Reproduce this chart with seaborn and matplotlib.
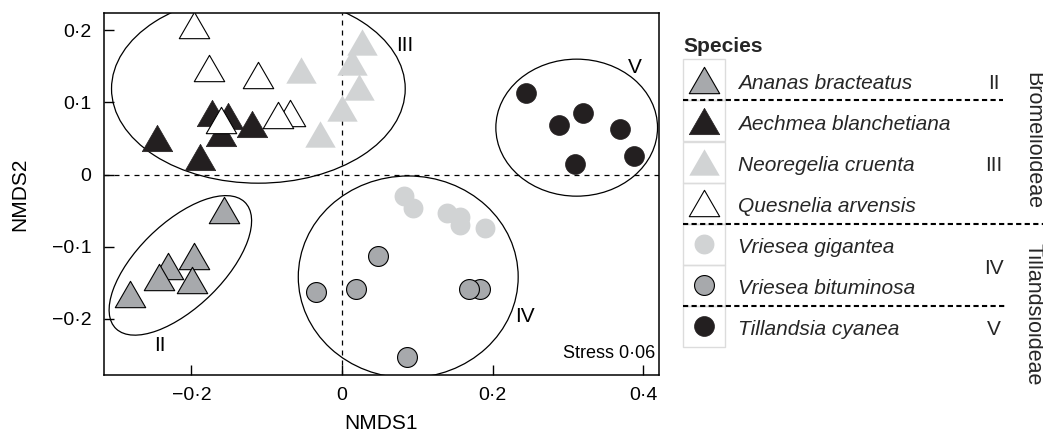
import numpy as np
import pandas as pd
import matplotlib
matplotlib.use("Agg")
import matplotlib.pyplot as plt
from matplotlib.patches import Ellipse, Rectangle
from matplotlib.path import Path
import seaborn as sns

# ---------------- data ----------------
species = ["Ananas bracteatus", "Aechmea blanchetiana", "Neoregelia cruenta",
           "Quesnelia arvensis", "Vriesea gigantea", "Vriesea bituminosa",
           "Tillandsia cyanea"]

ananas_x = [-0.231, -0.197, -0.2425, -0.1998, -0.2813, -0.157]
ananas_y = [-0.1275, -0.1125, -0.1424, -0.1458, -0.165, -0.0489]
aechmea_x = [-0.246, -0.188, -0.173, -0.151, -0.161, -0.119]
aechmea_y = [0.0507, 0.0243, 0.0858, 0.0813, 0.057, 0.0706]
neoregelia_x = [-0.0545, -0.029, 0.0, 0.0226, 0.0133, 0.0266]
neoregelia_y = [0.1447, 0.0567, 0.0928, 0.122, 0.1556, 0.1838]
quesnelia_x = [-0.197, -0.177, -0.111, -0.069, -0.085, -0.161]
quesnelia_y = [0.207, 0.1475, 0.1375, 0.0858, 0.0826, 0.0757]
gigantea_x = [0.0828, 0.0944, 0.139, 0.1568, 0.1568, 0.190]
gigantea_y = [-0.0299, -0.047, -0.054, -0.0586, -0.070, -0.0747]
bituminosa_x = [-0.0343, 0.019, 0.0476, 0.1838, 0.1683, 0.0864]
bituminosa_y = [-0.163, -0.1586, -0.1128, -0.1588, -0.1588, -0.2535]
tillandsia_x = [0.2445, 0.2888, 0.3198, 0.3686, 0.3096, 0.388]
tillandsia_y = [0.1128, 0.0688, 0.085, 0.0628, 0.0146, 0.0261]

xs = [ananas_x, aechmea_x, neoregelia_x, quesnelia_x, gigantea_x, bituminosa_x, tillandsia_x]
ys = [ananas_y, aechmea_y, neoregelia_y, quesnelia_y, gigantea_y, bituminosa_y, tillandsia_y]

# cluster ellipses (centre x, centre y, width, height, angle) and labels
groups = ["II", "III", "IV", "V"]
ell_cx = [-0.2146, -0.111, 0.088, 0.3117]
ell_cy = [-0.126, 0.119, -0.142, 0.065]
ell_w = [0.245, 0.39, 0.292, 0.2147]
ell_h = [0.115, 0.262, 0.28, 0.19]
ell_ang = [46, 0, 0, 0]
lab_x = [-0.242, 0.083, 0.243, 0.389]
lab_y = [-0.237, 0.179, -0.1975, 0.148]

xticks = [-0.2, 0.0, 0.2, 0.4]
xticklabels = ["\u22120\u00b72", "0", "0\u00b72", "0\u00b74"]
yticks = [-0.2, -0.1, 0.0, 0.1, 0.2]
yticklabels = ["\u22120\u00b72", "\u22120\u00b71", "0", "0\u00b71", "0\u00b72"]

legend_groups = ["II", "III", "IV", "V"]
subfamilies = ["Bromelioideae", "Tillandsioideae"]

# ---------------- styles ----------------
GRAY = "#a7a9ac"
LIGHT = "#d1d3d4"
BLACK = "#231f20"
tri = Path([(-1, -0.866), (1, -0.866), (0, 0.866), (0, 0)], closed=True)
TRI_S = 480
CIR_S = 205
styles = [
    dict(marker=tri, s=TRI_S, color=GRAY, edgecolor="black", linewidth=0.8),
    dict(marker=tri, s=TRI_S, color=BLACK, edgecolor=BLACK, linewidth=0.5),
    dict(marker=tri, s=TRI_S, color=LIGHT, edgecolor=LIGHT, linewidth=0.0),
    dict(marker=tri, s=TRI_S, color="white", edgecolor="black", linewidth=0.8),
    dict(marker="o", s=CIR_S, color=LIGHT, edgecolor=LIGHT, linewidth=0.0),
    dict(marker="o", s=CIR_S, color=GRAY, edgecolor="black", linewidth=0.8),
    dict(marker="o", s=CIR_S, color=BLACK, edgecolor=BLACK, linewidth=0.5),
]

sns.set_theme(style="white")
plt.rcParams["font.family"] = ["Liberation Sans", "DejaVu Sans"]

W, H = 1043, 434
fig = plt.figure(figsize=(W / 100, H / 100), dpi=100)
ax = fig.add_axes([104 / W, 1 - 375 / H, 555 / W, 362 / H])

df = pd.concat([pd.DataFrame({"NMDS1": x, "NMDS2": y, "species": sp})
                for sp, x, y in zip(species, xs, ys)], ignore_index=True)

for i, sp in enumerate(species):
    sub = df[df["species"] == sp]
    sns.scatterplot(data=sub, x="NMDS1", y="NMDS2", ax=ax, legend=False,
                    zorder=3 + i, **styles[i])

ax.axhline(0, color="black", lw=0.9, ls=(0, (4, 4)), zorder=1)
ax.axvline(0, color="black", lw=0.9, ls=(0, (4, 4)), zorder=1)

for g, cx, cy, w, h, a, lx, ly in zip(groups, ell_cx, ell_cy, ell_w, ell_h, ell_ang, lab_x, lab_y):
    ax.add_patch(Ellipse((cx, cy), w, h, angle=a, fill=False, ec="black", lw=0.9, zorder=2))
    ax.text(lx, ly, g, ha="center", va="center", fontsize=15, color="black")

ax.text(0.993, 0.046, "Stress 0\u00b706", transform=ax.transAxes, ha="right",
        va="baseline", fontsize=13, color="black")

ax.set_xlim(-0.316, 0.421)
ax.set_ylim(-0.278, 0.224)
ax.set_xticks(xticks)
ax.set_xticklabels(xticklabels)
ax.set_yticks(yticks)
ax.set_yticklabels(yticklabels)
ax.tick_params(direction="in", length=7, width=1, pad=9, labelsize=14,
               colors="black", left=True, bottom=True)
for sp_ in ax.spines.values():
    sp_.set_color("black")
    sp_.set_linewidth(1.1)
ax.set_xlabel("NMDS1", fontsize=15, color="black")
ax.set_ylabel("NMDS2", fontsize=15, color="black")
ax.xaxis.set_label_coords(0.5, -0.108)
ax.yaxis.set_label_coords(-0.135, 0.5)

# ---------------- legend (pixel coordinates) ----------------
lg = fig.add_axes([0, 0, 1, 1])
lg.set_xlim(0, W)
lg.set_ylim(H, 0)
lg.axis("off")

top, rh = 59.3, 41.1
cx0, cx1 = 683, 725
lg.text(683, 52, "Species", fontsize=15, fontweight="bold", va="baseline", ha="left")
for i, sp in enumerate(species):
    yc = top + rh * (i + 0.5)
    lg.add_patch(Rectangle((cx0, top + rh * i), cx1 - cx0, rh, fill=False,
                           ec="#dcdcdc", lw=1.0, zorder=1))
    st = dict(styles[i])
    lg.scatter([(cx0 + cx1) / 2], [yc], c=[st.pop("color")], zorder=3, **st)
    lg.text(738, yc + 9, sp, fontsize=15, fontstyle="italic", va="baseline", ha="left")

row_c = [top + rh * (i + 0.5) for i in range(7)]
num_y = [row_c[0], row_c[2], (row_c[4] + row_c[5]) / 2, row_c[6]]
for g, yy in zip(legend_groups, num_y):
    lg.text(994, yy + 9, g, fontsize=15, ha="center", va="baseline")

sep_y = [top + rh * 1, top + rh * 4, top + rh * 6]
sep_x1 = [1003, 1043, 1007]
for yy, x1 in zip(sep_y, sep_x1):
    lg.plot([683, x1], [yy, yy], color="black", lw=1.5, ls=(0, (2.5, 1.6)), zorder=4)

lg.text(1033, 140, subfamilies[0], rotation=-90, fontsize=15.5, ha="center", va="center")
lg.text(1033, 314, subfamilies[1], rotation=-90, fontsize=15.5, ha="center", va="center")

fig.savefig("out.png", dpi=100)
